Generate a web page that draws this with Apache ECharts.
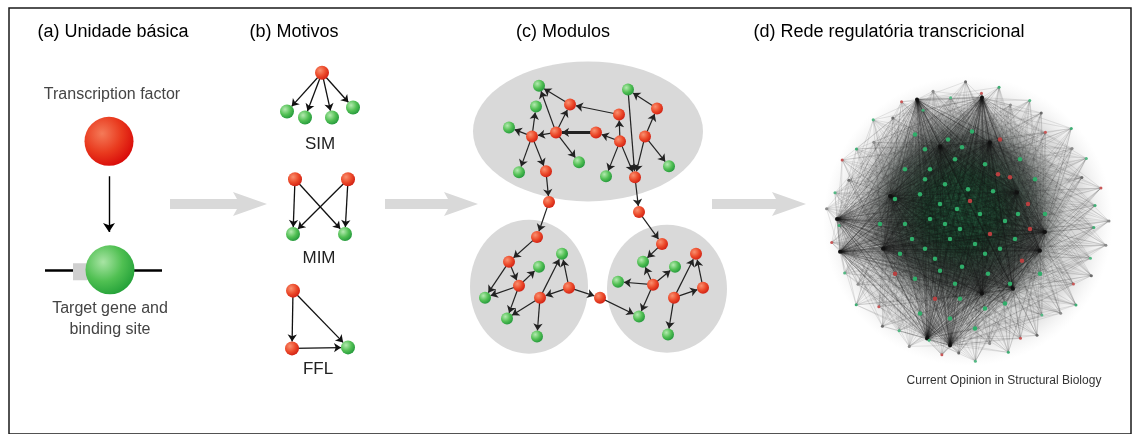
<!doctype html>
<html>
<head>
<meta charset="UTF-8">
<title>Rede regulatória transcricional</title>
<script src="https://cdn.jsdelivr.net/npm/echarts@6/dist/echarts.min.js"></script>
<style>
html,body{margin:0;padding:0;background:#fff;}
#main{width:1134px;height:434px;}
</style>
</head>
<body>
<div id="main"></div>
<script type="text/javascript">
// textos  [x, y, texto]
var titles = [[113,32,'(a) Unidade básica'],[294,32,'(b) Motivos'],[563,32,'(c) Modulos'],[889,32,'(d) Rede regulatória transcricional']];
var notes = [[112,95,'Transcription factor'],[110,310,'Target gene and'],[110,331,'binding site']];
var motifNames = [[320,145,'SIM'],[319,259,'MIM'],[318,371,'FFL']];
var credit = [[1004,382,'Current Opinion in Structural Biology']];

// (a) unidade basica
var unitNodes = [[109,142,'tf'],[110,271,'gene']];
var unitArrow = [[109,177],[109,233]];
var dnaLine = [[45,271],[162,271]];
var bindSite = [[80,273]];

// setas cinzas [x inicio, x ponta, y]
var flowArrows = [[170,267,205],[385,478,205],[712,806,205]];

// modulos [cx, cy, largura, altura]
var modules = [[588,132,230,140],[529,288,118,134],[667,290,120,128]];

// (b) motivos  [nome, x, y, tipo]
var motifNodes = [
  ['s0',322,73,'r'],['s1',287,112,'g'],['s2',305,118,'g'],['s3',332,118,'g'],['s4',353,108,'g'],
  ['m0',295,180,'r'],['m1',348,180,'r'],['m2',293,235,'g'],['m3',345,235,'g'],
  ['f0',293,292,'r'],['f1',292,350,'r'],['f2',348,349,'g']
];
var motifLinks = [['s0','s1'],['s0','s2'],['s0','s3'],['s0','s4'],
  ['m0','m2'],['m0','m3'],['m1','m2'],['m1','m3'],
  ['f0','f1'],['f0','f2'],['f1','f2']];

// (c) modulos
var moduleNodes = [
  ['g1',539,86,'g'],['r1',570,105,'r'],['g2',536,107,'g'],['r2',619,115,'r'],['g3',509,128,'g'],
  ['r3',532,137,'r'],['r4',556,133,'r'],['r5',596,133,'r'],['r6',620,142,'r'],['r7',645,137,'r'],
  ['g4',628,90,'g'],['r8',657,109,'r'],['g5',579,163,'g'],['g6',519,173,'g'],['r9',546,172,'r'],
  ['g7',606,177,'g'],['r10',635,178,'r'],['g8',669,167,'g'],['r11',549,203,'r'],['r12',639,213,'r'],
  ['r13',537,238,'r'],['r14',509,263,'r'],['g9',539,268,'g'],['r15',519,287,'r'],['g10',485,299,'g'],
  ['g11',562,255,'g'],['r16',540,299,'r'],['r17',569,289,'r'],['g12',507,320,'g'],['g13',537,338,'g'],
  ['r18',600,299,'r'],['r19',662,245,'r'],['g14',643,263,'g'],['g15',675,268,'g'],['g16',618,283,'g'],
  ['r20',653,286,'r'],['g17',639,318,'g'],['r21',696,255,'r'],['r22',703,289,'r'],['r23',674,299,'r'],
  ['g18',668,336,'g']
];
var moduleLinks = [
  ['r1','g1'],['r4','g1'],['r2','r1'],['r4','r1'],['r3','g2'],['r3','g3'],['r4','r3'],['r5','r4'],
  ['r6','r5'],['r6','r2'],['r3','g6'],['r3','r9'],['r4','g5'],['r6','g7'],['r6','r10'],['r7','r10'],
  ['r7','r8'],['r8','g4'],['g4','r10'],['r7','g8'],['r9','r11'],['r10','r12'],
  ['r11','r13'],['r13','r14'],['r14','g10'],['r14','r15'],['r15','g9'],['r15','g10'],['r15','g12'],
  ['r16','g12'],['r16','g13'],['r16','g11'],['r17','g11'],['r17','r16'],['r17','r18'],['r18','g17'],
  ['r12','r19'],['r19','g14'],['r20','g14'],['r20','g16'],['r20','g15'],['r20','g17'],
  ['r23','r21'],['r22','r21'],['r23','r22'],['r23','g18']
];
var thickLinks = [['r5','r4']];

// (d) rede completa
var hairCenter = [968,222];
var hubs = [[982,98],[917,100],[837,220],[840,253],[1040,252],[1045,233],[927,340],[950,347],
  [982,295],[1013,290],[890,197],[990,143],[940,147],[883,250],[1017,193]];
// nos da borda [angulo, raio]
var ring = [[0,141],[7,128],[14,137],[21,122],[28,134],[35,127],[42,139],[49,118],[56,131],[63,136],
  [70,124],[77,138],[84,129],[91,140],[98,125],[105,135],[112,120],[119,137],[126,128],[133,139],
  [140,123],[147,133],[154,140],[161,126],[168,136],[175,142],[182,129],[189,138],[196,121],[203,134],
  [210,127],[217,140],[224,124],[231,136],[238,130],[245,139],[252,126],[259,137],[266,133],[273,141],
  [280,125],[287,138],[294,129],[301,134],[308,120],[315,131],[322,137],[329,123],[336,135],[343,128],
  [350,140],[357,126]];
var core = [[925,150],[948,140],[972,132],[1000,140],[1020,160],[905,170],[930,170],[955,160],[985,165],
  [1010,178],[895,200],[920,195],[945,185],[968,190],[993,192],[1028,205],[905,225],[930,220],[957,210],
  [980,215],[1005,222],[1030,230],[900,255],[925,250],[950,240],[975,245],[1000,250],[1022,262],[915,280],
  [940,272],[962,268],[988,275],[1010,285],[935,300],[960,300],[985,310],[950,320],[960,230],[940,205],[990,235],
  [915,135],[962,148],[1035,180],[880,225],[1045,215],[895,275],[1040,275],[920,315],[975,330],[1005,305],
  [945,225],[970,202],[985,255],[935,260],[1015,240],[955,285],[925,180],[998,175],[912,240],[1018,215]];

function ball(c0, c1, c2) {
  return {type:'radial', x:0.36, y:0.34, r:0.72,
    colorStops:[{offset:0,color:c0},{offset:0.55,color:c1},{offset:1,color:c2}]};
}
var redStyle = {color: ball('#f99070','#ec4a2a','#cf1e12'), opacity:1};
var greenStyle = {color: ball('#b4eab0','#52c054','#21963a'), opacity:1};

function graphData(list, size) {
  return list.map(function (n) {
    return {name:n[0], value:[n[1],n[2]], symbolSize:size, itemStyle: n[3]=='r' ? redStyle : greenStyle};
  });
}
function isThick(l) {
  for (var i = 0; i < thickLinks.length; i++)
    if (thickLinks[i][0]==l[0] && thickLinks[i][1]==l[1]) return true;
  return false;
}
var diagramNodes = graphData(motifNodes, 14).concat(graphData(moduleNodes, 12));
var diagramLinks = motifLinks.map(function (l) {
  return {source:l[0], target:l[1], lineStyle:{width:1.3, color:'#111', opacity:1}};
}).concat(moduleLinks.map(function (l) {
  return {source:l[0], target:l[1], lineStyle:{width: isThick(l) ? 2.8 : 1.2, color:'#222', opacity:1}};
}));

// rede (d)
var ringColors = ['#8a8a8a','#3fae74','#c85858','#6a6a6a','#54b884'];
var hairNodes = [];
var hairLinks = [];
hubs.forEach(function (h, i) {
  hairNodes.push({name:'h'+i, value:h, symbolSize:4, itemStyle:{color:'#111'}});
});
ring.forEach(function (p, i) {
  var a = p[0]*Math.PI/180;
  hairNodes.push({name:'p'+i, value:[hairCenter[0]+p[1]*Math.cos(a), hairCenter[1]-p[1]*Math.sin(a)],
    symbolSize:3, itemStyle:{color:ringColors[i%ringColors.length]}});
  hubs.forEach(function (h, j) {
    hairLinks.push({source:'p'+i, target:'h'+j});
  });
});
core.forEach(function (p, i) {
  hairNodes.push({name:'c'+i, value:p, symbolSize:4.5, itemStyle:{color: i%6==3 ? '#b84040' : '#2fae6a'}});
  hubs.forEach(function (h, j) {
    hairLinks.push({source:'c'+i, target:'h'+j, lineStyle:{opacity:0.2}});
  });
});
hubs.forEach(function (h, i) {
  for (var j = i+1; j < hubs.length; j++)
    hairLinks.push({source:'h'+i, target:'h'+j, lineStyle:{opacity:0.5}});
});

function textSeries(list, size, color, z) {
  return {
    type:'scatter', z:z, silent:true, symbolSize:1, itemStyle:{color:'rgba(0,0,0,0)', opacity:1},
    data:list.map(function (t) { return {value:[t[0],t[1]], name:t[2]}; }),
    label:{show:true, position:'inside', formatter:'{b}', color:color, fontSize:size, opacity:1,
      textBorderWidth:0, fontFamily:'Liberation Sans, Arial, sans-serif', align:'center', verticalAlign:'middle'}
  };
}

var chart = echarts.init(document.getElementById('main'));
var option = {
  animation:false,
  backgroundColor:'#fff',
  grid:{left:9, right:3, top:8, bottom:-2, show:true, borderColor:'#1a1a1a', borderWidth:1.5, backgroundColor:'#fff'},
  xAxis:{type:'value', min:9, max:1131, show:false},
  yAxis:{type:'value', min:8, max:436, inverse:true, show:false},
  series:[
    {
      type:'scatter', z:1, silent:true, symbol:'circle',
      data:modules.map(function (m) { return {value:[m[0],m[1]], symbolSize:[m[2],m[3]]}; }),
      itemStyle:{color:'#d9d9d9', opacity:1}
    },
    {
      type:'custom', z:2, silent:true,
      data:flowArrows,
      renderItem:function (params, api) {
        var p0 = api.coord([api.value(0), api.value(2)]);
        var p1 = api.coord([api.value(1), api.value(2)]);
        var y = p0[1], hx = p1[0]-34;
        return {type:'polygon', shape:{points:[[p0[0],y-5],[hx+4,y-5],[hx,y-12],[p1[0],y],[hx,y+12],[hx+4,y+5],[p0[0],y+5]]},
          style:{fill:'#d9d9d9'}};
      }
    },
    {
      type:'scatter', z:1, silent:true,
      data:[{value:[hairCenter[0],hairCenter[1]], symbolSize:290}],
      itemStyle:{opacity:1, color:{type:'radial', x:0.5, y:0.5, r:0.5,
        colorStops:[{offset:0,color:'rgba(60,80,70,0.5)'},{offset:0.8,color:'rgba(130,130,130,0.28)'},{offset:1,color:'rgba(200,200,200,0)'}]}}
    },
    {
      type:'scatter', z:2, silent:true,
      data:[{value:[962,212], symbolSize:210}],
      itemStyle:{opacity:1, color:{type:'radial', x:0.5, y:0.5, r:0.5,
        colorStops:[{offset:0,color:'rgba(35,110,70,0.95)'},{offset:0.35,color:'rgba(25,70,45,0.9)'},{offset:0.7,color:'rgba(25,35,30,0.6)'},{offset:1,color:'rgba(60,60,60,0)'}]}}
    },
    {
      type:'graph', z:3, layout:'none', coordinateSystem:'cartesian2d', silent:true,
      data:hairNodes, links:hairLinks,
      lineStyle:{color:'#151515', width:0.55, opacity:0.2},
      label:{show:false}, emphasis:{disabled:true}
    },
    {
      type:'lines', z:3, coordinateSystem:'cartesian2d', silent:true,
      data:[{coords:dnaLine}],
      symbol:['none','none'],
      lineStyle:{color:'#000', width:2.5, opacity:1}
    },
    {
      type:'lines', z:3, coordinateSystem:'cartesian2d', silent:true,
      data:[{coords:unitArrow}],
      symbol:['none','arrow'], symbolSize:9,
      lineStyle:{color:'#000', width:1.4, opacity:1}
    },
    {
      type:'scatter', z:4, silent:true, symbol:'rect',
      data:bindSite.map(function (p) { return {value:p, symbolSize:[14,17]}; }),
      itemStyle:{color:'#cfcfcf', opacity:1}
    },
    {
      type:'scatter', z:5, silent:true, symbolSize:49,
      data:unitNodes.map(function (n) {
        return {value:[n[0],n[1]], itemStyle: n[2]=='tf'
          ? {opacity:1, color:ball('#f47a58','#e93a1e','#d80808')}
          : {opacity:1, color:ball('#a8e4a4','#50c052','#22a038')}};
      })
    },
    {
      type:'graph', z:6, layout:'none', coordinateSystem:'cartesian2d', silent:true,
      data:diagramNodes, links:diagramLinks,
      edgeSymbol:['none','arrow'], edgeSymbolSize:[0,7],
      label:{show:false}, emphasis:{disabled:true}
    },
    textSeries(titles, 18, '#000', 10),
    textSeries(notes, 16, '#444', 10),
    textSeries(motifNames, 17, '#222', 10),
    textSeries(credit, 12, '#333', 10)
  ]
};
chart.setOption(option);
</script>
</body>
</html>
